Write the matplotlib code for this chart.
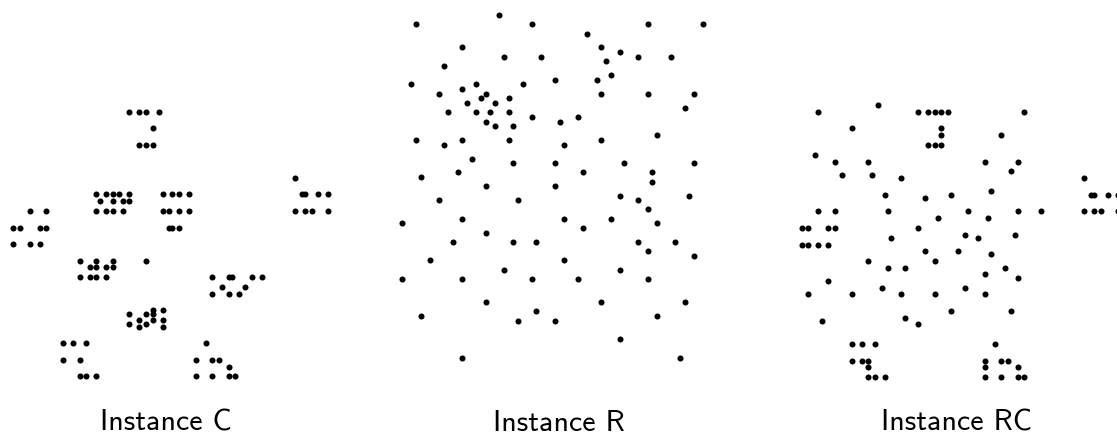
import matplotlib
matplotlib.use("Agg")
import matplotlib.pyplot as plt

# ==========================================
# Customer coordinates (depot first) per instance
# ==========================================
c_x = [40, 45, 45, 42, 42, 42, 40, 40, 38, 38, 35, 35, 25, 22, 22, 20, 20, 18, 15, 15, 30,
       30, 28, 28, 25, 25, 25, 23, 23, 20, 20, 10, 10, 8, 8, 5, 5, 2, 0, 0, 35,
       35, 33, 33, 32, 30, 30, 30, 28, 28, 26, 25, 25, 44, 42, 42, 40, 40, 38, 38, 35,
       50, 50, 50, 48, 48, 47, 47, 45, 45, 95, 95, 53, 92, 53, 45, 90, 88, 88, 87, 85,
       85, 75, 72, 70, 68, 66, 65, 65, 63, 60, 60, 67, 65, 65, 62, 60, 60, 58, 55, 55]
c_y = [50, 68, 70, 66, 68, 65, 69, 66, 68, 70, 66, 69, 85, 75, 85, 80, 85, 75, 75, 80, 50,
       52, 52, 55, 50, 52, 55, 52, 55, 50, 55, 35, 40, 40, 45, 35, 45, 40, 40, 45, 30,
       32, 32, 35, 30, 30, 32, 35, 30, 35, 32, 30, 35, 5, 10, 15, 5, 15, 5, 15, 5,
       30, 35, 40, 30, 40, 35, 40, 30, 35, 30, 35, 30, 30, 35, 65, 35, 30, 35, 30, 25,
       35, 55, 55, 58, 60, 55, 55, 60, 58, 55, 60, 85, 85, 82, 80, 80, 85, 75, 80, 85]

r_x = [35, 41, 35, 55, 55, 15, 25, 20, 10, 55, 30, 20, 50, 30, 15, 30, 10, 5, 20, 15, 45,
       45, 45, 55, 65, 65, 45, 35, 41, 64, 40, 31, 35, 53, 65, 63, 2, 20, 5, 60, 40,
       42, 24, 23, 11, 6, 2, 8, 13, 6, 47, 49, 27, 37, 57, 63, 53, 32, 36, 21, 17,
       12, 24, 27, 15, 62, 49, 67, 56, 37, 37, 57, 47, 44, 46, 49, 49, 53, 61, 57, 56,
       55, 15, 14, 11, 16, 4, 28, 26, 26, 31, 15, 22, 18, 26, 25, 22, 25, 19, 20, 18]
r_y = [35, 49, 17, 45, 20, 30, 30, 50, 43, 60, 60, 65, 35, 25, 10, 5, 20, 30, 40, 60, 65,
       20, 10, 5, 35, 20, 30, 40, 37, 42, 60, 52, 69, 52, 55, 65, 60, 20, 5, 12, 25,
       7, 12, 3, 14, 38, 48, 56, 52, 68, 47, 58, 43, 31, 29, 23, 12, 12, 26, 24, 34,
       24, 58, 69, 77, 77, 73, 5, 39, 47, 56, 68, 16, 17, 13, 11, 42, 43, 52, 48, 37,
       54, 47, 37, 31, 22, 18, 18, 52, 35, 67, 19, 22, 24, 27, 24, 27, 21, 21, 26, 18]

rc_x = [40, 25, 22, 22, 20, 20, 18, 15, 15, 10, 10, 8, 8, 5, 5, 2, 0, 0, 44, 42, 42,
        40, 40, 38, 38, 35, 95, 95, 92, 90, 88, 88, 87, 85, 85, 67, 65, 65, 62, 60, 60,
        58, 55, 55, 55, 20, 18, 2, 42, 42, 72, 55, 25, 20, 55, 30, 50, 30, 15, 10, 15,
        45, 65, 65, 45, 35, 41, 64, 40, 31, 35, 65, 63, 2, 20, 5, 60, 23, 8, 6, 47,
        49, 27, 37, 57, 63, 21, 12, 24, 67, 37, 49, 53, 61, 57, 56, 55, 4, 26, 26, 31]
rc_y = [50, 85, 75, 85, 80, 85, 75, 75, 80, 35, 40, 40, 45, 35, 45, 40, 40, 45, 5, 10, 15,
        5, 15, 5, 15, 5, 30, 35, 30, 35, 30, 35, 30, 25, 35, 85, 85, 82, 80, 80, 85,
        75, 80, 85, 82, 82, 80, 45, 5, 12, 35, 20, 30, 50, 60, 60, 35, 25, 10, 20, 60,
        65, 35, 20, 30, 40, 37, 42, 60, 52, 69, 55, 65, 60, 20, 5, 12, 3, 56, 68, 47,
        58, 43, 31, 29, 23, 24, 24, 58, 5, 47, 42, 43, 52, 48, 37, 54, 18, 52, 35, 67]

titles = ["Instance C", "Instance R", "Instance RC"]

# ==========================================
# Layout (pixels of the 1117x435 canvas)
# ==========================================
W, H = 1117, 435
# (px of x=0, px per unit x, px of y=0, px per unit y, xlim, ylim)
panels = [
    (13.3, 3.316, 96.15, 3.31, (-4, 100), (0, 92)),
    (392.9, 4.63, 2.1, 4.631, (-2, 70), (0, 80)),
    (801.7, 3.325, 96.1, 3.32, (-4, 100), (0, 92)),
]
title_x = [166, 559, 956]
title_base = 431

fig = plt.figure(figsize=(W / 100, H / 100), dpi=100)

for (px0, sx, py0, sy, xl, yl), xs, ys in zip(panels, [c_x, r_x, rc_x], [c_y, r_y, rc_y]):
    left = px0 + xl[0] * sx
    width = (xl[1] - xl[0]) * sx
    top = py0 + yl[0] * sy
    height = (yl[1] - yl[0]) * sy
    ax = fig.add_axes([left / W, (H - top - height) / H, width / W, height / H])
    ax.scatter(xs, ys, s=19, c="black", linewidths=0, clip_on=False)
    ax.set_xlim(*xl)
    ax.set_ylim(yl[1], yl[0])  # y grows downwards
    ax.axis("off")

for t, tx in zip(titles, title_x):
    fig.text(tx / W, (H - title_base) / H, t, ha="center", va="baseline",
             fontsize=21.6, family="cmss10")

fig.savefig("out.png", dpi=100)
